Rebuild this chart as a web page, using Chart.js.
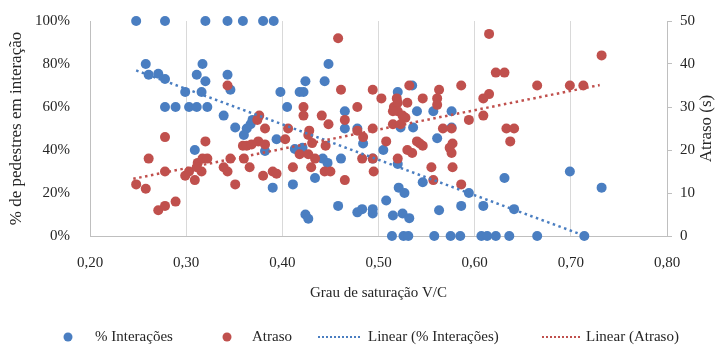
<!DOCTYPE html>
<html><head><meta charset="utf-8">
<script src="https://cdn.jsdelivr.net/npm/chart.js@4/dist/chart.umd.min.js"></script>
<style>html,body{margin:0;padding:0;background:#fff}#c{display:block}</style>
</head><body>
<canvas id="c" width="722" height="353"></canvas>
<script>
const xTicks = [0.2,0.3,0.4,0.5,0.6,0.7,0.8];
const seriesNames = ['% Interações','Atraso','Linear (% Interações)','Linear (Atraso)'];
const axisTitles = {x: 'Grau de saturação V/C', y: '% de pedestres em interação', y2: 'Atraso (s)'};

const xInter = [0.248,0.278,0.320,0.343,0.359,0.380,0.391,
 0.258,0.261,0.271,0.278,0.317,0.311,0.320,0.343,0.346,0.299,0.316,
 0.278,0.289,0.303,0.311,0.322,
 0.339,0.351,0.363,0.360,0.309,0.367,0.369,0.382,0.394,
 0.398,0.405,0.424,0.418,0.422,0.448,0.444,0.465,0.465,0.478,
 0.413,0.421,0.442,0.447,0.434,0.411,0.390,0.461,0.484,0.505,0.494,
 0.424,0.427,0.458,0.478,0.483,0.494,0.494,0.508,0.515,0.521,
 0.520,0.535,0.540,0.557,0.576,0.523,0.536,0.576,0.561,0.520,0.546,0.527,0.594,0.631,0.586,0.609,0.641,0.563,0.525,0.532,
 0.514,0.526,0.531,0.558,0.575,0.585,0.607,0.613,0.622,0.636,0.665,0.714,
 0.699,0.732];
const yInter = [100,100,100,100,100,100,100,
 80,75,75.5,73,80,75,72,75,68,67,67,
 60,60,60,60,60,
 56,50.5,50,47,40,52,54,39.5,45,
 67,60,72,67,67,80,72,58,50,50,
 40.5,41,36,34,27,24,22.5,36,43,40,36,
 10,8,14,11,12.5,12.5,10.5,16.5,9.5,22.5,
 67,70,58,58,58,50.5,50.5,50.5,45.5,33.5,25,20,20,27,14,14,12.5,12,10.5,8.3,
 0,0,0,0,0,0,0,0,0,0,0,0,
 30,22.5];

const xAtraso = [0.343,0.278,0.320,0.261,0.278,0.248,0.258,0.271,0.278,0.289,
 0.299,0.303,0.309,0.312,0.317,0.322,0.316,0.311,0.346,0.339,
 0.343,0.351,0.359,0.360,0.363,
 0.458,0.461,0.494,0.503,0.422,0.422,0.441,0.448,0.465,0.478,0.516,0.519,
 0.376,0.374,0.382,0.406,0.428,0.494,0.478,0.515,
 0.375,0.382,0.368,0.403,0.427,0.431,0.418,0.427,0.411,0.430,0.434,0.445,0.444,0.450,0.465,
 0.484,0.483,0.494,0.495,0.508,0.366,0.380,0.390,0.394,
 0.615,0.622,0.631,0.665,0.615,0.609,0.609,0.594,0.586,0.563,0.561,0.561,0.546,0.532,
 0.520,0.530,0.520,0.525,0.515,0.528,0.523,
 0.567,0.576,0.633,0.641,0.637,
 0.540,0.543,0.546,0.530,0.535,0.520,
 0.574,0.577,0.576,0.577,0.555,0.557,0.586,
 0.699,0.713,0.732];
const yAtraso = [35,23,22,18,15,12,11,6,7,8,
 14,15,13,17,18,18,15,16,18,16,
 15,12,21,18,21,
 46,34,34,32,30,28,28,26,27,30,30,32,
 28,27,25,25,24.5,25,24.5,26,
 22,21.3,21.3,22.5,23.5,21.6,19,19,16,16,18,21,15,15,13,
 23,18,18,15,22,16,14,15,14.5,
 47,38,38,35,33,32,28,27,35,34,32,30.5,32,35,
 31,31,29,28,29,27.5,26,
 25,25,25,25,22,
 22,21.5,21,20,19.3,18,
 20.5,21.5,19.3,16,16,13,12,
 35,35,42];

const trendInterX = [0.248, 0.712];
const trendInterY = [77, 0.5];
const trendAtrasoX = [0.245, 0.730];
const trendAtrasoY = [13.3, 35.1];

const BLUE = 'rgb(74,126,193)';
const RED = 'rgb(192,80,77)';
const FONT = "'Liberation Serif', 'Times New Roman', serif";
const TXT = '#262626';
const zip = (xs, ys) => xs.map((x, i) => ({x: x, y: ys[i]}));

const legendPlugin = {
  id: 'customLegend',
  afterDraw(chart) {
    const ctx = chart.ctx;
    ctx.save();
    ctx.font = '15px ' + FONT;
    ctx.fillStyle = TXT;
    ctx.textBaseline = 'middle';
    const y = 337;
    const items = [
      {type:'dot', color: BLUE, mx: 68, tx: 95},
      {type:'dot', color: RED, mx: 227, tx: 252},
      {type:'line', color: BLUE, mx: 318, mx2: 362, tx: 368},
      {type:'line', color: RED, mx: 542, mx2: 581, tx: 586}
    ];
    items.forEach((it, i) => {
      if (it.type === 'dot') {
        ctx.beginPath();
        ctx.fillStyle = it.color;
        ctx.arc(it.mx, y, 4.5, 0, Math.PI * 2);
        ctx.fill();
      } else {
        ctx.beginPath();
        ctx.strokeStyle = it.color;
        ctx.lineWidth = 2;
        ctx.setLineDash([2, 2]);
        ctx.moveTo(it.mx, y);
        ctx.lineTo(it.mx2, y);
        ctx.stroke();
        ctx.setLineDash([]);
      }
      ctx.fillStyle = TXT;
      ctx.fillText(seriesNames[i], it.tx, y);
    });
    // right axis title, reading bottom to top
    const a = chart.chartArea;
    ctx.translate(707, (a.top + a.bottom) / 2);
    ctx.rotate(-Math.PI / 2);
    ctx.textAlign = 'center';
    ctx.font = '17px ' + FONT;
    ctx.fillText(axisTitles.y2, 0, 0);
    ctx.restore();
  }
};

new Chart(document.getElementById('c'), {
  type: 'scatter',
  data: {
    datasets: [
      {label: seriesNames[0], data: zip(xInter, yInter), yAxisID: 'y', backgroundColor: BLUE, borderColor: BLUE, pointRadius: 5, pointBorderWidth: 0, order: 4, clip: 10},
      {label: seriesNames[1], data: zip(xAtraso, yAtraso), yAxisID: 'y2', backgroundColor: RED, borderColor: RED, pointRadius: 5, pointBorderWidth: 0, order: 3, clip: 10},
      {type: 'line', label: seriesNames[2], data: zip(trendInterX, trendInterY), yAxisID: 'y', borderColor: BLUE, borderWidth: 2.5, borderDash: [2.5, 3.5], pointRadius: 0, fill: false, order: 2, clip: 10},
      {type: 'line', label: seriesNames[3], data: zip(trendAtrasoX, trendAtrasoY), yAxisID: 'y2', borderColor: RED, borderWidth: 2.5, borderDash: [2.5, 3.5], pointRadius: 0, fill: false, order: 1, clip: 10}
    ]
  },
  options: {
    responsive: false,
    animation: false,
    events: [],
    layout: {padding: {top: 18, bottom: 51, left: 0, right: 0}},
    plugins: {legend: {display: false}, tooltip: {enabled: false}},
    scales: {
      x: {
        type: 'linear', min: 0.2, max: 0.8,
        afterBuildTicks: (s) => { s.ticks = xTicks.map(v => ({value: v})); },
        afterFit: (s) => { s.height = 66; },
        grid: {color: '#d9d9d9', drawTicks: false, lineWidth: 1},
        border: {color: '#bfbfbf'},
        ticks: {padding: 18, color: TXT, font: {family: FONT, size: 15}, callback: (v) => v.toFixed(2).replace('.', ',')},
        title: {display: true, text: axisTitles.x, color: TXT, font: {family: FONT, size: 15}, padding: {top: 4, bottom: 0}}
      },
      y: {
        position: 'left', min: 0, max: 100,
        afterFit: (s) => { s.width = 90; },
        grid: {display: false},
        border: {color: '#bfbfbf'},
        ticks: {stepSize: 20, padding: 12, color: TXT, font: {family: FONT, size: 15}, callback: (v) => v + '%'},
        title: {display: true, text: axisTitles.y, color: TXT, font: {family: FONT, size: 17}, padding: {top: 6, bottom: 0}}
      },
      y2: {
        position: 'right', min: 0, max: 50,
        afterFit: (s) => { s.width = 55; },
        grid: {display: true, drawOnChartArea: false, drawTicks: true, tickLength: 5, color: '#bfbfbf'},
        border: {color: '#bfbfbf'},
        ticks: {stepSize: 10, padding: 8, color: TXT, font: {family: FONT, size: 15}}
      }
    }
  },
  plugins: [legendPlugin]
});
</script>
</body></html>
